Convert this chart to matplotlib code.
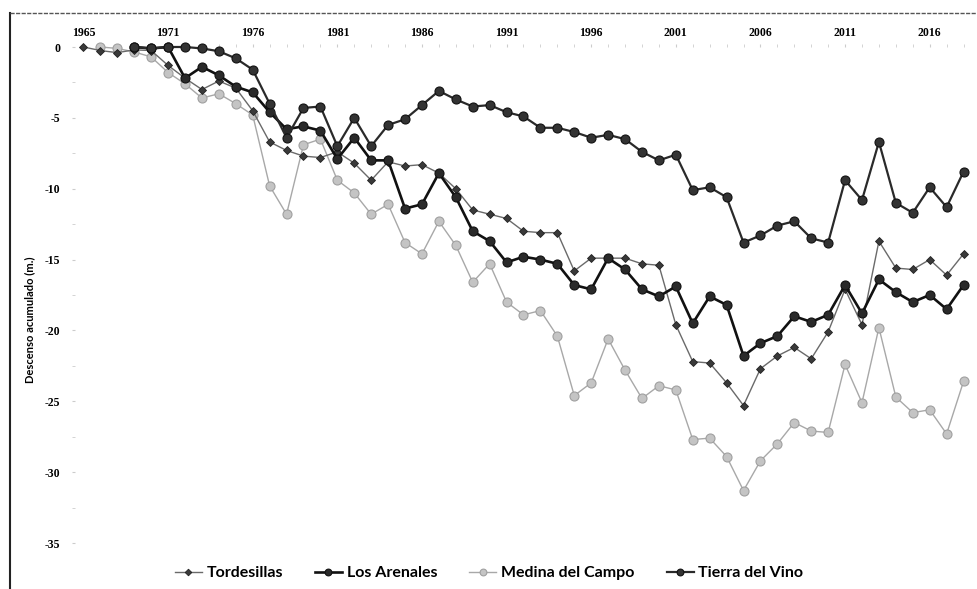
import numpy as np
import matplotlib
matplotlib.use("Agg")
import matplotlib.pyplot as plt
from matplotlib.ticker import MultipleLocator

nan = np.nan
years = [1965] + list(range(1967, 2019))

tordesillas = [0, -0.25, -0.4, -0.2, -0.25, -1.3, -2.2, -3.0, -2.4, -2.9, -4.5,
               -6.7, -7.3, -7.7, -7.8, -7.4, -8.2, -9.4, -8.1, -8.4, -8.3,
               -8.9, -10.0, -11.5, -11.8, -12.1, -13.0, -13.1, -13.1, -15.8, -14.9,
               -14.9, -14.9, -15.3, -15.4, -19.6, -22.2, -22.3, -23.7, -25.3, -22.7,
               -21.8, -21.2, -22.0, -20.1, -17.1, -19.6, -13.7, -15.6, -15.7, -15.0,
               -16.1, -14.6]
los_arenales = [nan, nan, nan, 0, -0.1, 0, -2.2, -1.4, -2.0, -2.8, -3.2,
                -4.6, -5.8, -5.6, -5.9, -7.9, -6.4, -8.0, -8.0, -11.4, -11.1,
                -8.9, -10.6, -13.0, -13.7, -15.2, -14.8, -15.0, -15.3, -16.8, -17.1,
                -14.9, -15.7, -17.1, -17.6, -16.9, -19.5, -17.6, -18.2, -21.8, -20.9,
                -20.4, -19.0, -19.4, -18.9, -16.8, -18.8, -16.4, -17.3, -18.0, -17.5,
                -18.5, -16.8]
medina = [nan, 0, -0.1, -0.35, -0.7, -1.8, -2.6, -3.6, -3.3, -4.0, -4.8,
          -9.8, -11.8, -6.9, -6.5, -9.4, -10.3, -11.8, -11.1, -13.8, -14.6,
          -12.3, -14.0, -16.6, -15.3, -18.0, -18.9, -18.6, -20.4, -24.6, -23.7,
          -20.6, -22.8, -24.8, -23.9, -24.2, -27.7, -27.6, -28.9, -31.3, -29.2,
          -28.0, -26.5, -27.1, -27.2, -22.4, -25.1, -19.8, -24.7, -25.8, -25.6,
          -27.3, -23.6]
tierra = [nan, nan, nan, 0, -0.1, 0, 0, -0.1, -0.3, -0.8, -1.6,
          -4.0, -6.4, -4.3, -4.2, -7.0, -5.0, -7.0, -5.5, -5.1, -4.1,
          -3.1, -3.7, -4.2, -4.1, -4.6, -4.9, -5.7, -5.7, -6.0, -6.4,
          -6.2, -6.5, -7.4, -8.0, -7.6, -10.1, -9.9, -10.6, -13.8, -13.3,
          -12.6, -12.3, -13.5, -13.8, -9.4, -10.8, -6.7, -11.0, -11.7, -9.9,
          -11.3, -8.8]

series_names = ["Tordesillas", "Los Arenales", "Medina del Campo", "Tierra del Vino"]

W, H = 978, 589
fig = plt.figure(figsize=(W / 100, H / 100), dpi=100)
fig.patch.set_facecolor("white")

ax = fig.add_axes([75 / W, (H - 543) / H, (972 - 75) / W, (543 - 47) / H])
x = np.arange(len(years))

h_med, = ax.plot(x, medina, color="#a8a8a8", lw=1.0, marker="o", ms=6.5,
                 mfc="#c4c4c4", mec="#a0a0a0", mew=0.8, clip_on=False, zorder=2)
h_tor, = ax.plot(x, tordesillas, color="#6a6a6a", lw=1.0, marker="D", ms=4.5,
                 mfc="#3a3a3a", mec="#222222", mew=0.6, clip_on=False, zorder=3)
h_are, = ax.plot(x, los_arenales, color="#111111", lw=1.9, marker="o", ms=6.5,
                 mfc="#2a2a2a", mec="#111111", mew=0.8, clip_on=False, zorder=4)
h_tie, = ax.plot(x, tierra, color="#2a2a2a", lw=1.6, marker="o", ms=6.5,
                 mfc="#333333", mec="#111111", mew=0.8, clip_on=False, zorder=5)

ax.set_xlim(-0.5, len(years) - 0.5)
ax.set_ylim(-35, 0)

ax.xaxis.tick_top()
ax.set_xticks(x[::5])
ax.set_xticklabels([str(years[i]) for i in range(0, len(years), 5)],
                   fontfamily="Liberation Serif", fontweight="bold", fontsize=8.5)
ax.set_xticks(x, minor=True)
ax.tick_params(axis="x", which="both", length=2.5, color="#cccccc", pad=3)
ax.set_yticks(np.arange(-35, 1, 5))
ax.set_yticklabels([str(v) for v in range(-35, 1, 5)],
                   fontfamily="Liberation Serif", fontweight="bold", fontsize=8.5)
ax.yaxis.set_minor_locator(MultipleLocator(2.5))
ax.tick_params(axis="y", which="both", length=2.5, color="#cccccc", pad=8)

for s in ax.spines.values():
    s.set_visible(False)

ax.set_ylabel("Descenso acumulado (m.)", fontfamily="Lato", fontweight="bold", fontsize=8)
ax.yaxis.set_label_coords(-40 / 897, 0.45)

fig.legend([h_tor, h_are, h_med, h_tie], series_names, loc="center",
           bbox_to_anchor=(0.5, (H - 573) / H), ncol=4, frameon=False,
           prop={"family": "Lato", "weight": "bold", "size": 11.5},
           handlelength=1.7, columnspacing=2.0, handletextpad=0.3, markerscale=0.75)

# chart frame
fig.add_artist(plt.Line2D([10 / W, 10 / W], [0, (H - 13) / H], transform=fig.transFigure,
                          color="#222222", lw=1.5))
fig.add_artist(plt.Line2D([10 / W, 1], [(H - 13) / H, (H - 13) / H], transform=fig.transFigure,
                          color="#555555", lw=1.0, ls=(0, (3, 1))))

fig.savefig("out.png", dpi=100, facecolor="white")
